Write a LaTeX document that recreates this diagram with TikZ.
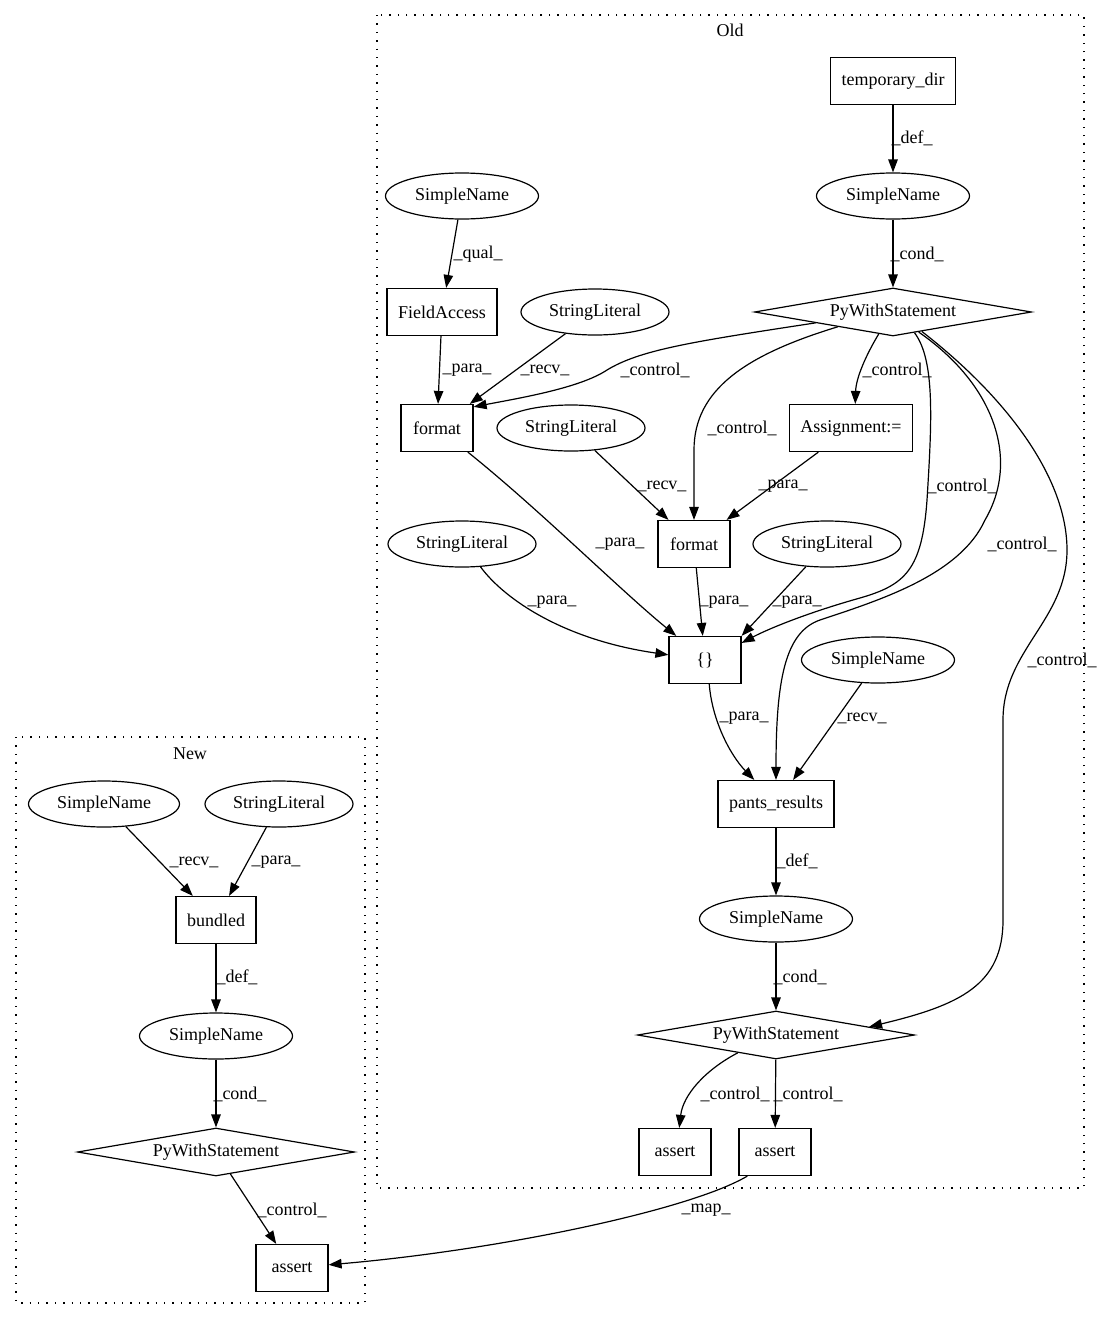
\documentclass[tikz,border=0pt]{standalone}
\usepackage{fontspec}
\setmainfont{Liberation Serif}
\usepackage{tikz}
\usetikzlibrary{arrows.meta,shapes.geometric}

\begin{document}
\begin{tikzpicture}[
    x=1pt, y=-1pt,
    font=\fontsize{18}{21}\selectfont,
    box/.style={draw, line width=1.2pt, rectangle, minimum height=47pt, minimum width=72pt, inner xsep=11pt},
    ell/.style={draw, line width=1.2pt, ellipse, minimum width=#1, minimum height=46pt, inner sep=0pt},
    ell/.default=153pt,
    dia/.style={draw, line width=1.2pt, diamond, aspect=5.75, minimum width=277pt, minimum height=48pt, inner sep=0pt},
    cluster/.style={draw, line width=1.3pt, dash pattern=on 1.4pt off 7pt},
    lbl/.style={inner sep=0pt},
    arr/.style={-{Triangle[length=13pt, width=9.5pt]}, line width=1.2pt}
]
\useasboundingbox (0,0) rectangle (1103,1320);

\draw[cluster] (377,15) rectangle (1084,1188);
\draw[cluster] (16,737) rectangle (365,1303);
\node (oldlbl) at (730,30) {Old};
\node (newlbl) at (190,754) {New};

\node[box] (tmpdir) at (893,81) {temporary\_dir};
\node[ell] (sntmp) at (893,196) {SimpleName};
\node[ell] (snfield) at (462,196) {SimpleName};
\node[box] (field) at (442,312) {FieldAccess};
\node[ell=148pt] (slA) at (595,312) {StringLiteral};
\node[dia] (withA) at (893,312) {PyWithStatement};
\node[box] (fmtA) at (437,428) {format};
\node[ell=148pt] (slB) at (571,428) {StringLiteral};
\node[box] (assign) at (851,428) {Assignment:=};
\node[box] (fmtB) at (694,544) {format};
\node[ell=148pt] (slC) at (462,544) {StringLiteral};
\node[ell=148pt] (slD) at (827,544) {StringLiteral};
\node[box] (braces) at (705,660) {\{\}};
\node[ell] (snrecv) at (878,660) {SimpleName};
\node[box] (pants) at (776,804) {pants\_results};
\node[ell] (snpants) at (776,919) {SimpleName};
\node[dia] (withB) at (776,1035) {PyWithStatement};
\node[box] (assertA) at (675,1152) {assert};
\node[box] (assertB) at (775,1152) {assert};

\node[ell=151pt] (snbund) at (104,804) {SimpleName};
\node[ell=148pt] (slbund) at (279,804) {StringLiteral};
\node[box] (bundled) at (216,920) {bundled};
\node[ell] (snnew) at (216,1036) {SimpleName};
\node[dia] (withC) at (216,1152) {PyWithStatement};
\node[box] (assertC) at (292,1268) {assert};

\draw[arr] (tmpdir) -- (sntmp) node[lbl] at (912,138) {\_def\_};
\draw[arr] (sntmp) -- (withA) node[lbl] at (917,254) {\_cond\_};
\draw[arr] (snfield) -- (field) node[lbl] at (478,254) {\_qual\_};
\draw[arr] (field) -- (fmtA) node[lbl] at (467,370) {\_para\_};
\draw[arr] (slA) -- (fmtA) node[lbl] at (545,370) {\_recv\_};
\draw[arr] (withA.188) .. controls (690,342) and (640,350) .. (607,370) .. controls (580,388) and (520,398) .. (fmtA.30) node[lbl] at (655,370) {\_control\_};
\draw[arr] (withA.195) .. controls (745,355) and (694,390) .. (694,450) -- (fmtB.north) node[lbl] at (742,428) {\_control\_};
\draw[arr] (withA.237) .. controls (866,355) and (856,378) .. (assign.80) node[lbl] at (897,370) {\_control\_};
\draw[arr] (withA.-44) .. controls (935,360) and (932,420) .. (927,500) .. controls (922,570) and (905,585) .. (860,598) .. controls (810,612) and (770,628) .. (braces.25) node[lbl] at (962,486) {\_control\_};
\draw[arr] (withA.-38) .. controls (995,385) and (1020,460) .. (985,520) .. controls (960,575) and (880,600) .. (820,620) .. controls (785,632) and (776,680) .. (pants.north) node[lbl] at (1022,544) {\_control\_};
\draw[arr] (withA.-34) .. controls (1010,400) and (1067,480) .. (1067,550) .. controls (1067,620) and (1003,650) .. (1003,720) -- (1003,920) .. controls (1003,985) and (960,1005) .. (withB.5) node[lbl] at (1062,660) {\_control\_};
\draw[arr] (slB) -- (fmtB) node[lbl] at (662,486) {\_recv\_};
\draw[arr] (assign) -- (fmtB) node[lbl] at (783,486) {\_para\_};
\draw[arr] (fmtA.-38) .. controls (540,510) and (620,590) .. (braces.140) node[lbl] at (620,544) {\_para\_};
\draw[arr] (slC.-51) .. controls (505,600) and (565,640) .. (braces.172) node[lbl] at (552,602) {\_para\_};
\draw[arr] (fmtB) -- (braces) node[lbl] at (724,602) {\_para\_};
\draw[arr] (slD) -- (braces.north east) node[lbl] at (797,602) {\_para\_};
\draw[arr] (braces.-80) .. controls (712,720) and (730,755) .. (pants.132) node[lbl] at (744,718) {\_para\_};
\draw[arr] (snrecv) -- (pants) node[lbl] at (862,718) {\_recv\_};
\draw[arr] (pants) -- (snpants) node[lbl] at (797,861) {\_def\_};
\draw[arr] (snpants) -- (withB) node[lbl] at (800,977) {\_cond\_};
\draw[arr] (withB.205) .. controls (705,1070) and (683,1095) .. (assertA.80) node[lbl] at (735,1094) {\_control\_};
\draw[arr] (withB) -- (assertB) node[lbl] at (808,1094) {\_control\_};
\draw[arr] (assertB.221) .. controls (690,1210) and (500,1250) .. (assertC.5) node[lbl] at (706,1210) {\_map\_};

\draw[arr] (snbund) -- (bundled) node[lbl] at (194,862) {\_recv\_};
\draw[arr] (slbund) -- (bundled) node[lbl] at (276,862) {\_para\_};
\draw[arr] (bundled) -- (snnew) node[lbl] at (237,977) {\_def\_};
\draw[arr] (snnew) -- (withC) node[lbl] at (240,1094) {\_cond\_};
\draw[arr] (withC) -- (assertC) node[lbl] at (292,1210) {\_control\_};
\end{tikzpicture}
\end{document}
